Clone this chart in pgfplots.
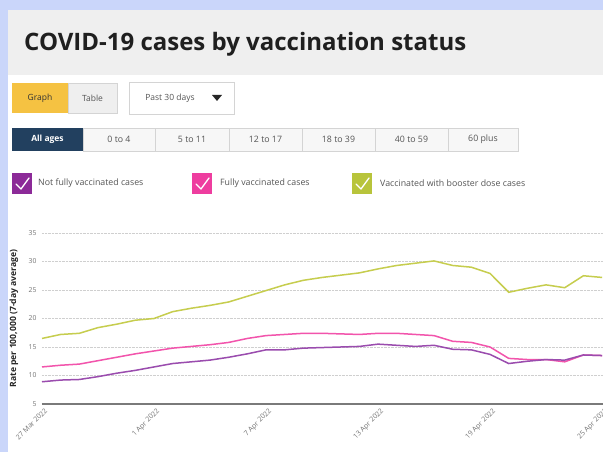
\documentclass[border=0pt]{standalone}
\usepackage{fontspec}
\setmainfont{Open Sans}
\usepackage{pgfplots}
\pgfplotsset{compat=1.18}
\usepackage{pgfplotstable}
\definecolor{stripblue}{HTML}{CAD6FA}
\definecolor{panelgray}{HTML}{EFEFEF}
\definecolor{btnyellow}{HTML}{F5C242}
\definecolor{navy}{HTML}{22405F}
\definecolor{bordergray}{HTML}{D4D4D4}
\definecolor{txtgray}{HTML}{555555}
\definecolor{boxpurple}{HTML}{8C2A98}
\definecolor{boxpink}{HTML}{EE3D9F}
\definecolor{boxgreen}{HTML}{B8C43B}
\definecolor{linepurple}{HTML}{9A4CAE}
\definecolor{linepink}{HTML}{F254AC}
\definecolor{linegreen}{HTML}{C6CD4E}
\definecolor{axgray}{HTML}{7A7A7A}
\definecolor{gridgray}{HTML}{CFCFCF}

\pgfplotstableread{
d notfully fully booster
0 8.9 11.5 16.5
1 9.2 11.8 17.2
2 9.3 12.0 17.4
3 9.8 12.6 18.4
4 10.4 13.2 19.0
5 10.9 13.8 19.7
6 11.5 14.3 20.0
7 12.1 14.8 21.2
8 12.4 15.1 21.8
9 12.7 15.4 22.3
10 13.2 15.8 22.9
11 13.8 16.5 23.9
12 14.5 17.0 24.9
13 14.5 17.2 25.9
14 14.8 17.4 26.7
15 14.9 17.4 27.2
16 15.0 17.3 27.6
17 15.1 17.2 28.0
18 15.5 17.4 28.7
19 15.3 17.4 29.3
20 15.1 17.2 29.7
21 15.3 17.0 30.1
22 14.6 16.0 29.3
23 14.5 15.8 29.0
24 13.7 15.0 27.9
25 12.1 13.0 24.6
26 12.5 12.8 25.3
27 12.8 12.8 25.9
28 12.7 12.4 25.4
29 13.6 13.6 27.5
30 13.5 13.5 27.2
}\datatable

\newcommand{\checkbox}[3]{% x, ytop(px), color
  \fill[#3] (#1,{452-#2}) rectangle ({#1+20},{452-#2-21});
  \draw[white, line width=1.3pt, line cap=round, line join=round]
    ({#1+4},{452-#2-11}) -- ({#1+9},{452-#2-16}) -- ({#1+17},{452-#2-5});
}

\begin{document}
\begin{tikzpicture}[x=1pt,y=1pt]
\useasboundingbox (0,0) rectangle (603,452);
\clip (0,0) rectangle (603,452);
% background
\fill[white] (0,0) rectangle (603,452);
\fill[stripblue] (0,0) rectangle (8,452);
\fill[stripblue] (0,442) rectangle (603,452);
\fill[panelgray] (8,377) rectangle (603,442);
% title
\node[anchor=base west, inner sep=0pt, text=black!88] at (24,401)
  {\fontsize{24}{28}\selectfont\bfseries COVID-19 cases by vaccination status};
% buttons
\fill[btnyellow] (12,339) rectangle (68,369);
\node[text=black!80] at (40,354) {\fontsize{8.5}{10}\selectfont Graph};
\filldraw[fill=panelgray, draw=bordergray] (68,339) rectangle (117,369);
\node[text=txtgray] at (92.5,354) {\fontsize{8.5}{10}\selectfont Table};
\filldraw[fill=white, draw=bordergray] (129,338) rectangle (234,370);
\node[text=txtgray] at (170,354) {\fontsize{8.5}{10}\selectfont Past 30 days};
\fill[black!85] (212,357) -- (222,357) -- (217,351) -- cycle;
% age tabs
\fill[navy] (12,301) rectangle (83,324);
\node[text=white] at (47.5,312.5) {\fontsize{8.5}{10}\selectfont\bfseries All ages};
\foreach \a/\b/\t in {83/155/0 to 4,155/229/5 to 11,229/302/12 to 17,302/375/18 to 39,375/448/40 to 59,448/518/60 plus}{
  \filldraw[fill=black!3, draw=bordergray] (\a,301) rectangle (\b,324);
  \node[text=txtgray] at ({(\a+\b)/2},312.5) {\fontsize{8.8}{10}\selectfont \t};
}
% legend
\checkbox{12}{173}{boxpurple}
\node[anchor=west, text=txtgray, inner sep=0pt] at (38,268.5) {\fontsize{8.8}{10}\selectfont Not fully vaccinated cases};
\checkbox{192}{173}{boxpink}
\node[anchor=west, text=txtgray, inner sep=0pt] at (220,268.5) {\fontsize{8.8}{10}\selectfont Fully vaccinated cases};
\checkbox{352}{173}{boxgreen}
\node[anchor=west, text=txtgray, inner sep=0pt] at (380,268.5) {\fontsize{8.8}{10}\selectfont Vaccinated with booster dose cases};

\begin{axis}[
  at={(42pt,48pt)}, anchor=south west,
  scale only axis, width=561pt, height=171pt,
  xmin=0, xmax=30.05, ymin=5, ymax=35,
  axis x line=bottom, axis y line=left,
  x axis line style={-, draw=axgray, line width=1.6pt},
  y axis line style={draw=none},
  major tick length=0pt,
  ytick={5,10,...,35},
  xtick={0,6,12,18,24,30},
  xticklabels={27 Mar 2022,1 Apr 2022,7 Apr 2022,13 Apr 2022,19 Apr 2022,25 Apr 2022},
  /pgf/number format/assume math mode=true,
  ymajorgrids,
  grid style={gridgray, densely dotted, line width=0.7pt},
  yticklabel style={text=black!55, font=\fontsize{6.8}{8}\selectfont, xshift=-2pt},
  xticklabel style={text=black!55, font=\fontsize{7}{8}\selectfont, rotate=45, anchor=north east, inner sep=1pt, yshift=-3pt},
  ylabel={Rate per 100,000 (7-day average)},
  ylabel style={font=\fontsize{8.6}{10}\selectfont\bfseries, text=black!85, at={(axis description cs:0,0.5)}, anchor=center, yshift=28pt, xshift=0pt},
  clip=false,
]
\addplot[linegreen, line width=1.5pt] table[x=d, y=booster] {\datatable};
\addplot[linepink, line width=1.5pt] table[x=d, y=fully] {\datatable};
\addplot[linepurple, line width=1.5pt] table[x=d, y=notfully] {\datatable};
\end{axis}
\end{tikzpicture}
\end{document}
